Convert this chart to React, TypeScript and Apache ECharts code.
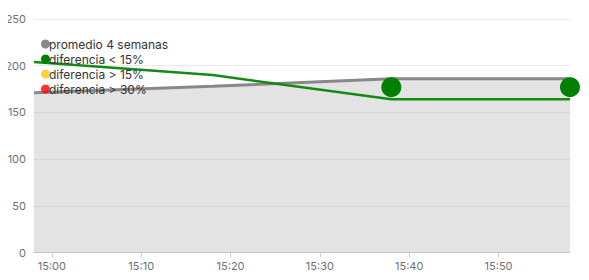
import React, { useEffect, useRef } from "react";
import * as echarts from "echarts";

const times = ["14:58", "15:18", "15:38", "15:58"];
const promedio = [171, 178, 186, 186];
const actual = [204, 190, 164, 164];
const dotTimes = ["15:38", "15:58"];
const dotValues = [177, 177];
const legendNames = ["promedio 4 semanas", "diferencia < 15%", "diferencia > 15%", "diferencia > 30%"];

function toDate(t: string): number {
  const [h, m] = t.split(":").map(Number);
  return new Date(2024, 0, 15, h, m, 0).getTime();
}

export default function App() {
  const ref = useRef<HTMLDivElement>(null);
  useEffect(() => {
    if (!ref.current) return;
    const chart = echarts.init(ref.current, undefined, { renderer: "svg" });
    const font = "Inter";
    chart.setOption({
      animation: false,
      textStyle: { fontFamily: font },
      grid: { left: 34, right: 19, top: 19, bottom: 27.5 },
      legend: {
        orient: "vertical",
        left: 36,
        top: 33,
        itemWidth: 9,
        itemHeight: 9,
        itemGap: 3,
        icon: "circle",
        data: legendNames,
        textStyle: { fontSize: 12, color: "#333", fontFamily: font, padding: [0, 0, 0, -6] },
      },
      xAxis: {
        type: "time",
        min: toDate(times[0]),
        max: toDate(times[times.length - 1]),
        splitNumber: 4,
        splitLine: { show: false },
        axisLine: { lineStyle: { color: "#ccc" } },
        axisTick: { show: true, lineStyle: { color: "#ccc" } },
        axisLabel: { color: "#6e7079", fontSize: 11, formatter: "{HH}:{mm}", showMinLabel: false, showMaxLabel: false },
      },
      yAxis: {
        type: "value",
        min: 0,
        max: 250,
        interval: 50,
        axisLabel: { color: "#6e7079", fontSize: 11 },
        splitLine: { lineStyle: { color: "#eaeaea" } },
      },
      series: [
        {
          name: legendNames[0],
          type: "line",
          data: times.map((t, i) => [toDate(t), promedio[i]]),
          showSymbol: false,
          symbol: "circle",
          itemStyle: { color: "#888" },
          lineStyle: { color: "#888", width: 3 },
          areaStyle: { color: "#888", opacity: 0.235 },
          z: 2,
        },
        {
          name: legendNames[1],
          type: "line",
          data: times.map((t, i) => [toDate(t), actual[i]]),
          showSymbol: false,
          symbol: "circle",
          itemStyle: { color: "#008000" },
          lineStyle: { color: "#138a13", width: 2.5 },
          z: 3,
        },
        {
          name: legendNames[1],
          type: "scatter",
          data: dotTimes.map((t, i) => [toDate(t), dotValues[i]]),
          symbol: "circle",
          symbolSize: 20,
          itemStyle: { color: "#008000", opacity: 1 },
          z: 4,
        },
        {
          name: legendNames[2],
          type: "scatter",
          data: [],
          symbol: "circle",
          itemStyle: { color: "#ffc60a" },
        },
        {
          name: legendNames[3],
          type: "scatter",
          data: [],
          symbol: "circle",
          itemStyle: { color: "#ff0000" },
        },
      ],
    });
    return () => chart.dispose();
  }, []);
  return <div ref={ref} style={{ width: 589, height: 280, marginLeft: -8, marginTop: -8 }} />;
}
